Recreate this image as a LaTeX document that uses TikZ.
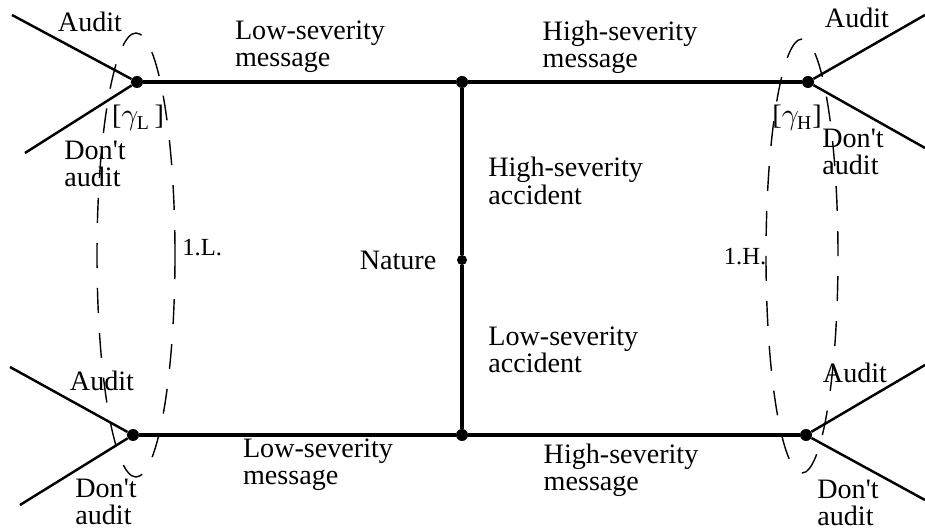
\documentclass[tikz,border=0pt]{standalone}
\usepackage{amsmath}
\usepackage{fontspec}
\setmainfont{Liberation Serif}
\usetikzlibrary{
  calc,
  positioning
}
\tikzset{
  dot/.style={circle,fill,inner sep=0pt,minimum size=0.24cm},
  mainline/.style={line width=2.3pt},
  branch/.style={line width=1.4pt},
  infoset/.style={line width=0.8pt,dash pattern=on 0.5cm off 0.4cm},
  lbl/.style={font=\fontsize{16}{15.5}\selectfont,align=left,inner sep=0pt}
}
\newcommand{\dont}{Don\textquotesingle t}

\begin{document}
\begin{tikzpicture}
      \useasboundingbox (0,0) rectangle (18.5,10.62);
      % move nodes
      \node[dot] (tl) at (2.74,8.98) {};
      \node[dot] (tm) at (9.24,8.98) {};
      \node[dot] (tr) at (16.16,8.98) {};
      \node[dot,minimum size=0.2cm] (nature) at (9.24,5.42) {};
      \node[dot] (bl) at (2.66,1.92) {};
      \node[dot] (bm) at (9.24,1.92) {};
      \node[dot] (br) at (16.12,1.92) {};
      \coordinate (tlA) at (0.24,10.32);
      \coordinate (tlD) at (0.5,7.56);
      \coordinate (blA) at (0.2,3.28);
      \coordinate (blD) at (0.4,0.52);
      \coordinate (trA) at (18.5,10.32);
      \coordinate (trD) at (18.5,7.66);
      \coordinate (brA) at (18.5,3.32);
      \coordinate (brD) at (18.5,0.62);

      \draw[mainline] (tl) -- (tm) -- (tr);
      \draw[mainline] (bl) -- (bm) -- (br);
      \draw[mainline] (tm) -- (nature) -- (bm);
      \draw[branch] (tlA) -- (tl) -- (tlD);
      \draw[branch] (blA) -- (bl) -- (blD);
      \draw[branch] (trA) -- (tr) -- (trD);
      \draw[branch] (brA) -- (br) -- (brD);

      % information sets
      \coordinate (infoL) at (2.72,5.52);
      \coordinate (infoH) at (16.04,5.5);
      \draw[infoset] (infoL) ellipse [x radius=0.78, y radius=4.44];
      \draw[infoset] (infoH) ellipse [x radius=0.72, y radius=4.34];

      \node[lbl] (tlAudit) at (1.8,10.18) {Audit};
      \node[lbl] (tlDont) at (1.9,7.34) {\dont\\audit};
      \node[lbl] (gamL) at (2.76,8.26) {[$\gamma_{\mathrm{L}}$\,]};
      \node[lbl] (trAudit) at (17.14,10.26) {Audit};
      \node[lbl] (trDont) at (17.06,7.58) {\dont\\audit};
      \node[lbl] (gamH) at (15.94,8.26) {[$\gamma_{\mathrm{H}}$]};
      \node[lbl] (blAudit) at (2.04,3.0) {Audit};
      \node[lbl] (blDont) at (2.12,0.58) {\dont\\audit};
      \node[lbl] (brAudit) at (17.1,3.16) {Audit};
      \node[lbl] (brDont) at (16.96,0.56) {\dont\\audit};

      \node[lbl] (msgLtop) at (6.2,9.68) {Low-severity\\message};
      \node[lbl] (msgHtop) at (12.4,9.68) {High-severity\\message};
      \node[lbl] (msgLbot) at (6.36,1.32) {Low-severity\\message};
      \node[lbl] (msgHbot) at (12.42,1.22) {High-severity\\message};
      \node[lbl,anchor=west] (accH) at (9.76,7.0) {High-severity\\accident};
      \node[lbl,anchor=west] (accL) at (9.76,3.62) {Low-severity\\accident};
      \node[lbl,left=0.4cm of nature] (natlbl) {Nature};
      \node[lbl,anchor=west,font=\fontsize{14}{14}\selectfont] (setL) at (3.64,5.66) {1.L.};
      \node[lbl,font=\fontsize{14}{14}\selectfont] (setH) at (14.9,5.48) {1.H.};
\end{tikzpicture}
\end{document}
